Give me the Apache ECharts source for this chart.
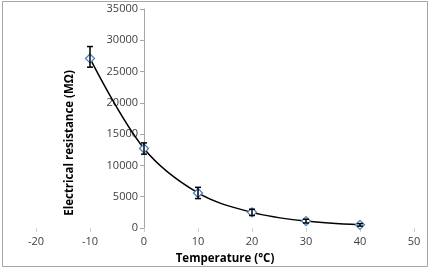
<!DOCTYPE html>
<html>
<head>
<meta charset="utf-8">
<script src="https://cdn.jsdelivr.net/npm/echarts@6/dist/echarts.min.js"></script>
<style>
  html, body { margin: 0; padding: 0; background: #fff; }
  #chart { width: 437px; height: 269px; }
</style>
</head>
<body>
<div id="chart"></div>
<script>
// temperature (°C) and resistance (MΩ)
var temps = [-10, 0, 10, 20, 30, 40];
var resistance = [27100, 12700, 5600, 2500, 1100, 500];
var errLow = [25700, 11800, 4700, 2000, 800, 300];
var errHigh = [29000, 13600, 6500, 3000, 1400, 700];
var xTicks = [-20, -10, 0, 10, 20, 30, 40, 50];
var yTicks = [0, 5000, 10000, 15000, 20000, 25000, 30000, 35000];

var pts = [], bars = [];
for (var i = 0; i < temps.length; i++) {
  pts.push([temps[i], resistance[i]]);
  bars.push([temps[i], errLow[i], errHigh[i]]);
}

var gridLeft = 36, gridRight = 23;
var plotW = 437 - gridLeft - gridRight;
// y axis crosses the x axis at 0, like the original
var yAxisShift = plotW * (0 - xTicks[0]) / (xTicks[xTicks.length - 1] - xTicks[0]);

var myChart = echarts.init(document.getElementById('chart'));
var font = 'Open Sans, Liberation Sans, sans-serif';

var option = {
  animation: false,
  graphic: [{
    type: 'rect',
    shape: { x: 2.5, y: 1.5, width: 425, height: 265 },
    style: { fill: 'none', stroke: '#a6a6a6', lineWidth: 1 },
    silent: true
  }, {
    // y axis title, placed like the original
    type: 'text',
    x: 64, y: 143,
    rotation: Math.PI / 2,
    style: {
      text: 'Electrical resistance (MΩ)',
      fill: '#000', font: 'bold 11.5px ' + font,
      align: 'center', verticalAlign: 'top'
    },
    silent: true
  }],
  grid: { left: gridLeft, right: gridRight, top: 9, bottom: 41, outerBoundsMode: 'none', containLabel: false },
  xAxis: {
    type: 'value',
    min: xTicks[0], max: xTicks[xTicks.length - 1], interval: 10,
    splitLine: { show: false },
    axisLine: { show: false },
    axisTick: { show: true, length: 4, lineStyle: { color: '#d0d0d0' } },
    axisLabel: { color: '#404040', fontFamily: font, fontSize: 11, margin: 8 },
    name: 'Temperature (°C)',
    nameLocation: 'middle',
    nameGap: 25,
    nameTextStyle: { color: '#000', fontFamily: font, fontSize: 11.5, fontWeight: 'bold' }
  },
  yAxis: {
    type: 'value',
    min: yTicks[0], max: yTicks[yTicks.length - 1], interval: 5000,
    offset: -yAxisShift,
    splitLine: { show: false },
    axisLine: { show: true, onZero: false, lineStyle: { color: '#a6a6a6' } },
    axisTick: { show: true, length: 4, lineStyle: { color: '#a6a6a6' } },
    axisLabel: { color: '#404040', fontFamily: font, fontSize: 11, margin: 6,
      formatter: function (v) { return String(v); } }
  },
  series: [
    {
      type: 'line',
      data: pts,
      smooth: 0.35,
      symbol: 'diamond',
      symbolSize: 9,
      lineStyle: { color: '#000', width: 1.5 },
      itemStyle: { color: '#fff', borderColor: '#4f81bd', borderWidth: 1.3 },
      z: 3
    },
    {
      type: 'custom',
      data: bars,
      z: 4,
      renderItem: function (params, api) {
        var lo = api.coord([api.value(0), api.value(1)]);
        var hi = api.coord([api.value(0), api.value(2)]);
        var w = 3;
        var st = { stroke: '#000', lineWidth: 1.5 };
        return {
          type: 'group',
          children: [
            { type: 'line', shape: { x1: lo[0], y1: lo[1], x2: hi[0], y2: hi[1] }, style: st },
            { type: 'line', shape: { x1: lo[0] - w, y1: lo[1], x2: lo[0] + w, y2: lo[1] }, style: st },
            { type: 'line', shape: { x1: hi[0] - w, y1: hi[1], x2: hi[0] + w, y2: hi[1] }, style: st }
          ]
        };
      }
    }
  ]
};

myChart.setOption(option);
</script>
</body>
</html>
